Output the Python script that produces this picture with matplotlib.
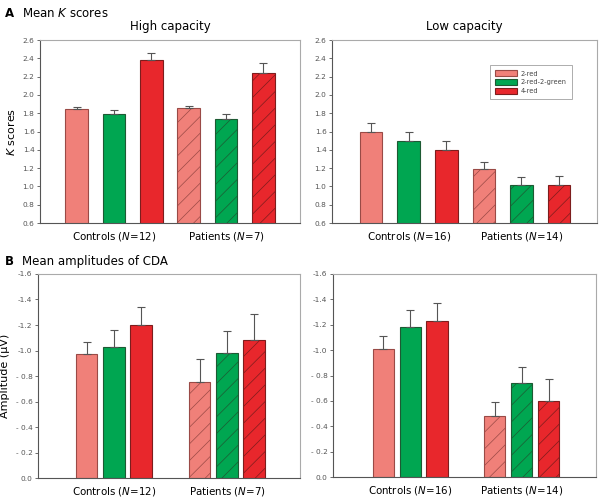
import numpy as np
import matplotlib
matplotlib.use('Agg')
from matplotlib import pyplot as plt
from matplotlib.patches import Patch

plt.rcParams['font.family'] = ['DejaVu Sans']
plt.rcParams['hatch.linewidth'] = 0.5

conditions = ['2-red', '2-red-2-green', '4-red']
colors = ['#f08079', '#00a651', '#e8272c']
edges = ['#9a4a46', '#1d5a33', '#7d1d1d']

# panel A: K scores (controls, patients)
k_high_ctrl = [1.85, 1.79, 2.38]
k_high_ctrl_err = [0.02, 0.04, 0.08]
k_high_pat = [1.86, 1.74, 2.24]
k_high_pat_err = [0.02, 0.05, 0.11]
k_low_ctrl = [1.60, 1.50, 1.40]
k_low_ctrl_err = [0.09, 0.09, 0.10]
k_low_pat = [1.19, 1.01, 1.01]
k_low_pat_err = [0.08, 0.09, 0.10]

# panel B: CDA amplitudes (uV, negative)
cda_high_ctrl = [-0.97, -1.03, -1.20]
cda_high_ctrl_err = [0.10, 0.13, 0.14]
cda_high_pat = [-0.75, -0.98, -1.08]
cda_high_pat_err = [0.18, 0.17, 0.21]
cda_low_ctrl = [-1.01, -1.18, -1.23]
cda_low_ctrl_err = [0.10, 0.14, 0.14]
cda_low_pat = [-0.48, -0.74, -0.60]
cda_low_pat_err = [0.11, 0.13, 0.17]

groups_high = ['Controls ($N$=12)', 'Patients ($N$=7)']
groups_low_k = ['Controls ($N$=16)', 'Patients ($N$=14)']
groups_low_cda = ['Controls ($N$=16)', 'Patients ($N$=14)']

k_ticks = [0.6, 0.8, 1.0, 1.2, 1.4, 1.6, 1.8, 2.0, 2.2, 2.4, 2.6]
cda_ticks = [0.0, -0.2, -0.4, -0.6, -0.8, -1.0, -1.2, -1.4, -1.6]
cda_ticklabels = ['0.0', '- 0.2', '- 0.4', '- 0.6', '- 0.8', '-1.0', '-1.2', '-1.4', '-1.6']

fig = plt.figure(figsize=(6, 4.97), dpi=100)


def style(ax):
    for s in ['left', 'bottom']:
        ax.spines[s].set_color('#555555')
        ax.spines[s].set_linewidth(0.8)
    for s in ['top', 'right']:
        ax.spines[s].set_color('#aaaaaa')
        ax.spines[s].set_linewidth(0.8)
    ax.tick_params(axis='y', labelsize=5.3, labelcolor='#555555', length=2, width=0.6,
                   color='#555555', pad=2)
    ax.tick_params(axis='x', length=0, labelsize=7.4, pad=5)


def draw(ax, ctrl, ctrl_err, pat, pat_err, xs_ctrl, xs_pat, width, inverted):
    for vals, errs, xs, hatch in [(ctrl, ctrl_err, xs_ctrl, None), (pat, pat_err, xs_pat, '//')]:
        for i in range(3):
            ax.bar(xs[i], vals[i], width, color=colors[i], edgecolor=edges[i],
                   linewidth=0.8, hatch=hatch, zorder=2)
            if inverted:
                yerr = [[errs[i]], [0]]
            else:
                yerr = [[0], [errs[i]]]
            ax.errorbar(xs[i], vals[i], yerr=yerr, fmt='none', ecolor='#555555',
                        elinewidth=0.8, capsize=3, capthick=0.8, zorder=3)


# A high
ax1 = fig.add_axes([0.0667, 0.5513, 0.4333, 0.3682])
draw(ax1, k_high_ctrl, k_high_ctrl_err, k_high_pat, k_high_pat_err,
     [0, 1, 2], [3, 4, 5], 0.6, False)
ax1.set_ylim(0.6, 2.6)
ax1.set_xlim(-0.98, 5.98)
ax1.set_yticks(k_ticks)
ax1.set_yticklabels(['%.1f' % t for t in k_ticks])
ax1.set_xticks([1, 4])
ax1.set_xticklabels(groups_high)
ax1.set_ylabel('$K$ scores', fontsize=8, labelpad=4)
ax1.set_title('High capacity', fontsize=8.5, pad=7)
style(ax1)

# A low
ax2 = fig.add_axes([0.5533, 0.5513, 0.4417, 0.3682])
draw(ax2, k_low_ctrl, k_low_ctrl_err, k_low_pat, k_low_pat_err,
     [0, 1, 2], [3, 4, 5], 0.6, False)
ax2.set_ylim(0.6, 2.6)
ax2.set_xlim(-1.04, 6.01)
ax2.set_yticks(k_ticks)
ax2.set_yticklabels(['%.1f' % t for t in k_ticks])
ax2.set_xticks([1, 4])
ax2.set_xticklabels(groups_low_k)
ax2.set_title('Low capacity', fontsize=8.5, pad=7)
style(ax2)
handles = [Patch(facecolor=colors[i], edgecolor=edges[i], linewidth=0.8) for i in range(3)]
leg = ax2.legend(handles, conditions, loc='upper left', bbox_to_anchor=(0.595, 0.865),
                 fontsize=4.8, frameon=True, fancybox=False, edgecolor='#888888',
                 handlelength=3.3, handleheight=1.1, labelspacing=0.35, borderpad=0.8,
                 handletextpad=0.6, borderaxespad=0)
leg.get_frame().set_linewidth(0.6)
for t in leg.get_texts():
    t.set_color('#444444')

# B high
gap = 4.15
ax3 = fig.add_axes([0.0633, 0.0382, 0.4367, 0.4105])
draw(ax3, cda_high_ctrl, cda_high_ctrl_err, cda_high_pat, cda_high_pat_err,
     [0, 1, 2], [gap, gap + 1, gap + 2], 0.79, True)
ax3.set_ylim(0, -1.6)
ax3.set_xlim(-1.78, 7.83)
ax3.set_yticks(cda_ticks)
ax3.set_yticklabels(cda_ticklabels)
ax3.set_xticks([1, gap + 1])
ax3.set_xticklabels(groups_high)
ax3.set_ylabel('Amplitude (μV)', fontsize=8, labelpad=4)
style(ax3)

# B low
ax4 = fig.add_axes([0.555, 0.0402, 0.4383, 0.4085])
draw(ax4, cda_low_ctrl, cda_low_ctrl_err, cda_low_pat, cda_low_pat_err,
     [0, 1, 2], [gap, gap + 1, gap + 2], 0.79, True)
ax4.set_ylim(0, -1.6)
ax4.set_xlim(-1.87, 7.91)
ax4.set_yticks(cda_ticks)
ax4.set_yticklabels(cda_ticklabels)
ax4.set_xticks([1, gap + 1])
ax4.set_xticklabels(groups_low_cda)
style(ax4)

fig.text(0.008, 0.985, 'A', fontsize=8.5, fontweight='bold', va='top')
fig.text(0.037, 0.985, 'Mean $K$ scores', fontsize=8.5, va='top')
fig.text(0.008, 0.487, 'B', fontsize=8.5, fontweight='bold', va='top')
fig.text(0.037, 0.487, 'Mean amplitudes of CDA', fontsize=8.5, va='top')

fig.savefig('out.png', dpi=100)
